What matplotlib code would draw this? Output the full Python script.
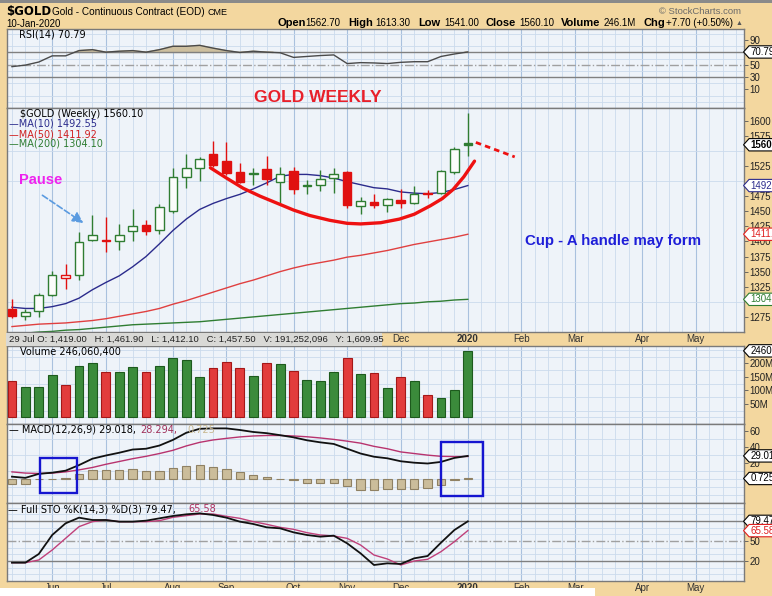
import numpy as np
import matplotlib.pyplot as plt
from matplotlib.patches import Rectangle
from matplotlib.path import Path
import matplotlib.transforms as mtransforms

plt.rcParams['font.family'] = ['Liberation Sans', 'DejaVu Sans']

# weekly bars of $GOLD, week of 17-May-2019 .. 10-Jan-2020
opens = [1288, 1277, 1284, 1312, 1339, 1345, 1402, 1402, 1400, 1417, 1427, 1419,
         1450, 1507, 1521, 1544, 1533, 1515, 1512, 1520, 1499, 1517, 1491, 1494,
         1505, 1515, 1459, 1466, 1461, 1469, 1464, 1480, 1480, 1515, 1562.7]
highs = [1304, 1288, 1315, 1351, 1363, 1416, 1443, 1440, 1429, 1453, 1435, 1461.9,
         1521, 1545, 1540, 1566, 1565, 1530, 1522, 1542, 1524, 1524, 1501, 1519,
         1521, 1516, 1474, 1478, 1472, 1487, 1491, 1485, 1518, 1556, 1613.3]
lows = [1273, 1270, 1275, 1310, 1321, 1336, 1400, 1382, 1386, 1400, 1410, 1412.1,
        1447, 1488, 1500, 1523, 1510, 1496, 1494, 1494, 1464, 1478, 1478, 1483,
        1481, 1456, 1445, 1455, 1448, 1456, 1462, 1472, 1478, 1511, 1541]
closes = [1276, 1283, 1311, 1345, 1344, 1399, 1411, 1401, 1410, 1425, 1417, 1457.5,
          1507, 1522, 1537, 1526, 1514, 1498, 1513, 1504, 1511, 1487, 1493, 1504,
          1512, 1461, 1467, 1461, 1471, 1464, 1479, 1478, 1516, 1552.4, 1560.1]
volume_m = [132.8, 112, 112, 158, 118, 190, 200.7, 167, 167, 187, 167, 191.25,
            221, 212, 149, 183, 206, 181, 154.5, 200.7, 197, 173, 138.6, 133,
            167, 218, 161, 164, 108.6, 150, 135, 83.4, 69.7, 102.8, 246.06]
ma10 = [1291, 1289, 1289, 1292, 1297, 1306, 1320, 1332, 1343, 1358, 1375, 1396,
        1418, 1437, 1453, 1463, 1471, 1478, 1487, 1497, 1508, 1511, 1511, 1509,
        1505, 1499, 1494, 1489, 1487, 1482, 1480, 1479, 1481, 1486, 1492.55]
ma50 = [1259, 1261, 1263, 1264, 1265, 1267, 1269, 1272, 1276, 1280, 1284, 1289,
        1296, 1302, 1309, 1316, 1323, 1330, 1336, 1343, 1350, 1356, 1361, 1365,
        1369, 1374, 1377, 1381, 1385, 1390, 1395, 1399, 1403, 1407, 1411.92]
ma200 = [1246, 1248, 1250, 1251, 1253, 1254, 1256, 1258, 1260, 1262, 1263, 1264,
         1265, 1266, 1267, 1269, 1271, 1273, 1275, 1277, 1279, 1281, 1283, 1285,
         1287, 1289, 1291, 1293, 1295, 1297, 1298, 1300, 1301, 1303, 1304.1]
rsi = [47, 49.5, 54.5, 64.5, 64.5, 73, 74.5, 70.5, 72, 73, 70.5, 74.5,
       80, 80, 81.5, 77, 73, 70, 72, 70.5, 69.5, 62, 63.5, 65,
       66, 52, 53.5, 53, 52, 54, 55, 55, 63.5, 67.5, 70.79]
macd = [3, 1.5, 6.5, 8, 10.5, 17.5, 25.5, 29.5, 33, 37, 38, 42,
        49, 58, 63, 63.5, 63.5, 61.5, 59, 57.5, 55, 52.3, 48.6, 46,
        44, 38, 32, 28, 26, 22.3, 20.5, 19.5, 21.5, 26.5, 29.018]
signal = [9, 7.5, 7, 7.5, 9, 11.5, 14.5, 18.5, 22, 25.5, 28.5, 32,
          36, 41.5, 46, 49, 51, 52.8, 54, 54.6, 54.6, 54, 53, 51.5,
          49.7, 47.5, 45, 41, 38, 34, 32, 30, 28.5, 28.2, 28.294]
hist = [-6, -6, -0.5, -0.5, 1.5, 5.9, 10.9, 10.9, 10.9, 12, 9.7, 9.7,
        13.5, 16.6, 17.4, 14.7, 12.8, 8.9, 5.1, 3.2, 0.6, -1.7, -4.4, -5.5,
        -5.5, -9.3, -13.1, -13.1, -12, -12, -12, -10.9, -7, -1.7, 0.725]
sto_k = [17.5, 17.5, 30.5, 59, 76.5, 85, 81.5, 81.5, 79, 79, 80.5, 84,
         87.5, 90, 91.5, 89, 85, 79, 75.5, 70.5, 69, 63, 59, 56.5,
         58, 46.5, 31.5, 14, 16.5, 15.5, 24, 27.5, 47.5, 66.5, 79.47]
sto_d = [17.5, 17.5, 21.5, 36.5, 54, 71.5, 79, 81.5, 79, 79, 79, 80.5,
         85.5, 88, 90.5, 90.5, 87, 84, 79, 75, 70.5, 67.5, 62.5, 59,
         57.5, 54, 44, 29, 23, 14, 20, 22.5, 34, 49, 65.58]

# cup drawn by hand on the chart (week index, price)
cup_x = [14.8, 16, 17.25, 18.5, 19.7, 21, 22.2, 23.7, 25, 26, 27.5, 28.9, 30, 31.2, 32.1, 32.9, 33.7, 34.5]
cup_y = [1522, 1505, 1488, 1475, 1464, 1452, 1443, 1435, 1430, 1429, 1431, 1437, 1445, 1459, 1471, 1486, 1507, 1533]
handle_x = [34.6, 37.5]
handle_y = [1564, 1540]

month_pos = [3, 7, 12, 16, 21, 25, 29, 34, 38, 42, 47, 51]
month_lbl = ['Jun', 'Jul', 'Aug', 'Sep', 'Oct', 'Nov', 'Dec', '2020', 'Feb', 'Mar', 'Apr', 'May']

# right-axis labels (the ones hidden by value tags are left out)
price_ticks = [1275, 1325, 1350, 1375, 1400, 1425, 1450, 1475, 1525, 1575, 1600]

W, H = 772, 596
TAN = '#f3d79f'
FACE = '#eef3f9'
GRID = '#cbdaec'
GRID2 = '#a9c1de'
GREEN = '#2f7d32'
RED = '#e01010'

x = np.arange(len(closes))
o = np.array(opens); c = np.array(closes); h = np.array(highs); l = np.array(lows)
prev = np.concatenate([[o[0]], c[:-1]])
colors = np.where(c >= prev, GREEN, RED)

fig = plt.figure(figsize=(W / 100, H / 100), dpi=100)
fig.patch.set_facecolor(TAN)


def ftext(px, py, s, **kw):
    kw.setdefault('va', 'center')
    kw.setdefault('fontsize', 7)
    return fig.text(px / W, 1 - py / H, s, **kw)


def panel(top, bot, ylim, gstep, yticks, ylabels):
    ax = fig.add_axes([7 / W, 1 - bot / H, 737 / W, (bot - top) / H])
    ax.set_facecolor(FACE)
    ax.set_xlim(-0.37, 54.6)
    ax.set_ylim(*ylim)
    ax.set_xticks(np.arange(0, 55), minor=True)
    ax.set_xticks(month_pos)
    ax.set_yticks(np.arange(ylim[0] - ylim[0] % gstep, ylim[1], gstep), minor=True)
    ax.grid(True, which='minor', color=GRID, lw=0.6)
    ax.grid(True, which='major', axis='x', color=GRID2, lw=0.8)
    ax.set_axisbelow(True)
    ax.tick_params(axis='x', which='both', length=0, labelbottom=False)
    ax.tick_params(which='minor', length=0)
    ax.yaxis.tick_right()
    ax.set_yticks(yticks)
    ax.set_yticklabels(ylabels)
    ax.tick_params(axis='y', which='major', length=3, width=0.6, color='#555555',
                   labelsize=7, pad=1, labelcolor='#222222')
    for s in ax.spines.values():
        s.set_color('#7a7a7a')
        s.set_linewidth(1)
    return ax


def tag_box(x0, y0, width, height, mutation_size):
    # value tag with a point on its left side
    pad = 0.12 * mutation_size
    x0, y0 = x0 - pad, y0 - pad
    width, height = width + 2 * pad, height + 2 * pad
    tip = height * 0.45
    pts = [(x0 - tip, y0 + height / 2), (x0, y0), (x0 + width, y0),
           (x0 + width, y0 + height), (x0, y0 + height), (x0 - tip, y0 + height / 2)]
    return Path(pts, closed=True)


def tag(ax, val, s, col, bold=False):
    ax.annotate(s, xy=(1, val), xycoords=('axes fraction', 'data'),
                xytext=(4.5, 0), textcoords='offset points', va='center', ha='left',
                fontsize=7, color=col, fontweight='bold' if bold else 'normal',
                bbox=dict(boxstyle=tag_box, fc='white', ec=col, lw=0.8),
                annotation_clip=False, zorder=6)


# ---- RSI ----
ax_rsi = panel(29, 108, (-11, 108), 10, [10, 30, 50, 90], ['10', '30', '50', '90'])
ax_rsi.axhline(70, color='#808080', lw=1)
ax_rsi.axhline(30, color='#808080', lw=1)
ax_rsi.axhline(50, color='#a0a0a0', lw=1, ls='-.')
r = np.array(rsi)
ax_rsi.fill_between(x, r, 70, where=r > 70, interpolate=True, color='#cdbf9f')
ax_rsi.plot(x, r, color='#4a4a4a', lw=1)
tag(ax_rsi, 70.79, '70.79', '#000000')

# ---- price ----
ax_p = panel(108, 332, (1259, 1621), 25, price_ticks, [str(v) for v in price_ticks])
ax_p.plot(x, ma200, color=GREEN, lw=1)
ax_p.plot(x, ma50, color='#e04040', lw=1)
ax_p.plot(x, ma10, color='#2b2b8c', lw=1)
ax_p.vlines(x, l, h, colors=colors, lw=1, zorder=3)
body_lo = np.minimum(o, c)
body_h = np.maximum(np.abs(c - o), 1.3)
faces = [('#fbfcfb' if c[i] > o[i] else colors[i]) for i in range(len(c))]
ax_p.bar(x, body_h, 0.64, bottom=body_lo, color=faces, edgecolor=colors, lw=1, zorder=4)
ax_p.plot(cup_x, cup_y, color='#ee1111', lw=2.4, solid_capstyle='round', zorder=5)
ax_p.plot(handle_x, handle_y, color='#ee1111', lw=2, ls=(0, (2, 1.5)), zorder=5)
ax_p.annotate('', xy=(5.5, 1428), xytext=(2.1, 1479),
              arrowprops=dict(arrowstyle='-|>', color='#5b9be0', lw=1.2, ls='--',
                              mutation_scale=16))
tag(ax_p, 1304.10, '1304.10', GREEN)
tag(ax_p, 1411.92, '1411.92', '#e02020')
tag(ax_p, 1492.55, '1492.55', '#2b2b8c')
tag(ax_p, 1560.10, '1560.10', '#000000', bold=True)

# ---- volume ----
ax_v = panel(346, 424, (-5, 264), 25, [50, 100, 150, 200], ['50M', '100M', '150M', '200M'])
vfaces = np.where(c >= prev, '#3b8b3b', '#e23c3c')
vedges = np.where(c >= prev, '#1d5a1d', '#a51818')
ax_v.bar(x, volume_m, 0.66, color=vfaces, edgecolor=vedges, lw=0.8, zorder=3)
tag(ax_v, 246.06, '246060400', '#000000')

# ---- MACD ----
ax_m = panel(424, 503, (-21, 69), 10, [20, 40, 60], ['20', '40', '60'])
ax_m.bar(x, hist, 0.62, color='#cbbd9b', edgecolor='#8f8163', lw=0.8, zorder=3)
ax_m.plot(x, signal, color='#b8336e', lw=1, zorder=4)
ax_m.plot(x, macd, color='#111111', lw=1.3, zorder=5)
tag(ax_m, 29.018, '29.018', '#000000')
tag(ax_m, 0.725, '0.725', '#000000')

# ---- Full STO ----
ax_s = panel(503, 581, (-10, 107), 10, [20, 50], ['20', '50'])
ax_s.axhline(80, color='#808080', lw=1)
ax_s.axhline(20, color='#808080', lw=1)
ax_s.axhline(50, color='#a0a0a0', lw=1, ls='-.')
ax_s.plot(x, sto_d, color='#c0407a', lw=1)
ax_s.plot(x, sto_k, color='#111111', lw=1.3)
tag(ax_s, 79.47, '79.47', '#000000')
tag(ax_s, 65.58, '65.58', '#e02020')

# ---- date strips ----
for top, bot in [(332, 346), (581, 596)]:
    ax_t = fig.add_axes([7 / W, 1 - bot / H, 737 / W, (bot - top) / H])
    ax_t.set_xlim(-0.37, 54.6)
    ax_t.axis('off')
    tr = mtransforms.blended_transform_factory(ax_t.transData, ax_t.transAxes)
    yy = 0.5 if bot == 346 else 0.55
    for m, lbl in zip(month_pos, month_lbl):
        if bot == 346 and m < 28:
            continue  # hidden under the crosshair readout
        ax_t.text(m, yy, lbl, transform=tr, ha='center', va='center', fontsize=7,
                  color='#333333', fontweight='bold' if lbl == '2020' else 'normal')

fig.add_artist(Rectangle((6 / W, 1 - 346 / H), 376 / W, 13 / H, transform=fig.transFigure,
                         fc='#d9d9d6', ec='none', zorder=2))
ftext(9, 339.5, '29 Jul O: 1,419.00   H: 1,461.90   L: 1,412.10   C: 1,457.50   '
      'V: 191,252,096   Y: 1,609.95', fontsize=6.8, color='#222222', zorder=3)
fig.add_artist(Rectangle((0, 0), 595 / W, 8.5 / H, transform=fig.transFigure,
                         fc='white', ec='none', zorder=4))

# ---- header ----
fig.add_artist(Rectangle((0, 1 - 2.5 / H), 1, 2.5 / H, transform=fig.transFigure,
                         fc='#8a8a8a', ec='none'))
ftext(6, 12, '$GOLD', fontsize=8.5, fontweight='bold', family='DejaVu Sans')
ftext(52, 12, 'Gold - Continuous Contract (EOD)', fontsize=7.2)
ftext(207, 12.5, 'CME', fontsize=6.5)
ftext(6, 24, '10-Jan-2020', fontsize=7)
ftext(659, 11, '\u00a9 StockCharts.com', fontsize=6.8, color='#6a6a6a')
hdr = [(278, 'Open', True), (305, '1562.70', False), (348, 'High', True),
       (375, '1613.30', False), (418, 'Low', True), (444, '1541.00', False),
       (486, 'Close', True), (519, '1560.10', False), (561, 'Volume', True),
       (604, '246.1M', False), (644, 'Chg', True), (666, '+7.70 (+0.50%)', False)]
for hx, s, b in hdr:
    ftext(hx, 23.5, s, fontsize=8 if b else 7, fontweight='bold' if b else 'normal')
ftext(736, 23.5, '\u25b2', fontsize=5, color='#555555')

# ---- panel legends ----
PL = dict(family='DejaVu Sans', fontsize=7)
ftext(19, 34.5, 'RSI(14) 70.79', **PL)
ftext(20, 114, '$GOLD (Weekly) 1560.10', **PL)
ftext(9, 124, '\u2014MA(10) 1492.55', color='#2b2b8c', **PL)
ftext(9, 134, '\u2014MA(50) 1411.92', color='#d02020', **PL)
ftext(9, 144, '\u2014MA(200) 1304.10', color=GREEN, **PL)
ftext(20, 352, 'Volume 246,060,400', **PL)
ftext(9, 430, '\u2014 MACD(12,26,9) 29.018,', **PL)
ftext(140, 430, '28.294,', color='#a0305a', **PL)
ftext(187, 430, '0.725', color='#c8b890', **PL)
ftext(8, 509, '\u2014 Full STO %K(14,3) %D(3) 79.47,', **PL)
ftext(188, 509, '65.58', color='#b03060', **PL)

# ---- annotations ----
ftext(318, 97.5, 'GOLD WEEKLY', ha='center', fontsize=12.5, fontweight='bold', color='#e8202a')
ftext(41, 180, 'Pause', ha='center', fontsize=10.5, fontweight='bold', color='#ee22ee')
ftext(613, 240.5, 'Cup - A handle may form', ha='center', fontsize=10.8, fontweight='bold',
      color='#1e1ed8')
for x0, y0, x1, y1 in [(40, 458, 77, 493), (441, 442, 483, 496)]:
    fig.add_artist(Rectangle((x0 / W, 1 - y1 / H), (x1 - x0) / W, (y1 - y0) / H,
                             transform=fig.transFigure, fill=False, ec='#1515d0', lw=1.7,
                             zorder=5))

fig.savefig('out.png', dpi=100, facecolor=fig.get_facecolor())
